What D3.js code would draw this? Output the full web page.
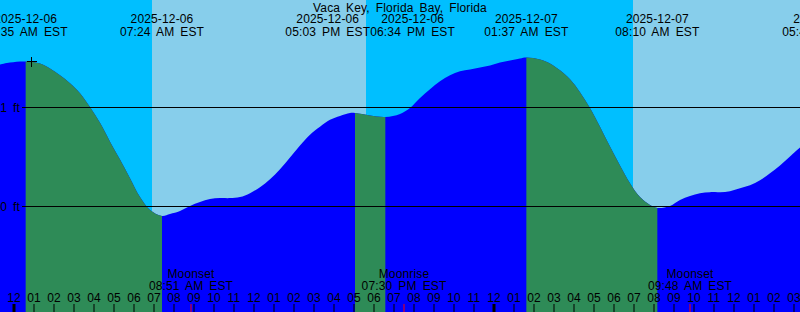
<!DOCTYPE html>
<html>
<head>
<meta charset="utf-8">
<script src="https://cdn.jsdelivr.net/npm/d3@7/dist/d3.min.js"></script>
<style>
  body { margin: 0; overflow: hidden; background: #fff; }
  svg { display: block; font-family: "Liberation Sans", Arial, sans-serif; font-size: 12px; word-spacing: 2.5px; letter-spacing: 0.15px; }
</style>
</head>
<body>
<svg id="chart" width="800" height="312"></svg>
<script>
var title = "Vaca Key, Florida Bay, Florida";

// all times are hours after 2025-12-06 00:00 EST
var tideHours = [-0.7, -0.2, 0.583, 1.3, 1.8, 2.3, 2.8, 3.3, 3.8, 4.3, 4.8, 5.3, 5.8, 6.3, 6.8, 7.4,
  7.8, 8.3, 8.8, 9.3, 9.8, 10.3, 10.8, 11.3, 11.8, 12.3, 12.8, 13.3, 13.8, 14.3, 14.8, 15.3, 15.8,
  16.3, 16.8, 17.05, 17.8, 18.567, 19.3, 19.8, 20.3, 20.8, 21.3, 21.8, 22.3, 22.8, 23.3, 23.8,
  24.3, 24.8, 25.3, 25.617, 26.3, 26.8, 27.3, 27.8, 28.3, 28.8, 29.3, 29.8, 30.3, 30.8, 31.3,
  31.8, 32.167, 32.8, 33.3, 33.8, 34.3, 34.8, 35.3, 35.8, 36.3, 36.8, 37.3, 37.8, 38.3, 38.8, 39.3];
var tideFeet = [1.43, 1.45, 1.46, 1.44, 1.39, 1.32, 1.24, 1.14, 1.00, 0.84, 0.65, 0.47, 0.28, 0.09, -0.04, -0.10,
  -0.08, -0.05, 0.00, 0.04, 0.07, 0.08, 0.08, 0.09, 0.13, 0.19, 0.27, 0.37, 0.49, 0.61, 0.72, 0.80, 0.87,
  0.91, 0.94, 0.94, 0.915, 0.90, 0.93, 0.99, 1.09, 1.18, 1.26, 1.32, 1.36, 1.38, 1.40, 1.42,
  1.45, 1.47, 1.49, 1.50, 1.48, 1.44, 1.37, 1.28, 1.15, 0.99, 0.80, 0.60, 0.41, 0.23, 0.09,
  0.01, -0.02, 0.00, 0.06, 0.10, 0.13, 0.14, 0.14, 0.15, 0.18, 0.21, 0.26, 0.33, 0.41, 0.50, 0.59];

var extremeHours = [0.583, 7.4, 17.05, 18.567, 25.617, 32.167, 41.75, 43.55];
var extremeKinds = ["high", "low", "high", "low", "high", "low", "high", "low"];
var extremeDates = ["2025-12-06", "2025-12-06", "2025-12-06", "2025-12-06", "2025-12-07", "2025-12-07", "2025-12-07", "2025-12-07"];
var extremeTimes = ["12:35 AM EST", "07:24 AM EST", "05:03 PM EST", "06:34 PM EST", "01:37 AM EST", "08:10 AM EST", "05:45 PM EST", "07:33 PM EST"];

var sunriseHours = [6.9, 30.95];
var sunsetHours = [17.6];

var moonHours = [8.85, 19.5, 33.8];
var moonEvents = ["Moonset", "Moonrise", "Moonset"];
var moonTimes = ["08:51 AM EST", "07:30 PM EST", "09:48 AM EST"];

var feetTicks = [0, 1];
var feetLabels = ["0 ft", "1 ft"];

var hourTicks = d3.range(0, 40);
var hourLabels = ["12", "01", "02", "03", "04", "05", "06", "07", "08", "09", "10", "11",
  "12", "01", "02", "03", "04", "05", "06", "07", "08", "09", "10", "11",
  "12", "01", "02", "03", "04", "05", "06", "07", "08", "09", "10", "11",
  "12", "01", "02", "03"];

var markHour = 0.83, markFeet = 1.46;

var width = 800, height = 312;
var dayColor = "#87ceeb", nightColor = "#00bfff", floodColor = "#0000ff", ebbColor = "#2e8b57";

var svg = d3.select("#chart");
var x = d3.scaleLinear().domain([0, 40]).range([14, 814]);
var y = d3.scaleLinear().domain([0, 1]).range([206, 107]);

// sky
svg.append("rect").attr("width", width).attr("height", height).attr("fill", nightColor);
var days = sunriseHours.map(function(r){
  var s = sunsetHours.filter(function(v){ return v > r; })[0];
  return [r, s === undefined ? 40 : s];
});
svg.selectAll("rect.day").data(days).enter().append("rect")
  .attr("class", "day")
  .attr("x", function(d){ return x(d[0]); })
  .attr("width", function(d){ return x(d[1]) - x(d[0]); })
  .attr("y", 0).attr("height", height)
  .attr("fill", dayColor);

// water
var pts = tideHours.map(function(h, i){ return [h, tideFeet[i]]; });
var area = d3.area()
  .x(function(d){ return x(d[0]); })
  .y0(height)
  .y1(function(d){ return y(d[1]); })
  .curve(d3.curveCatmullRom.alpha(0.5));

svg.append("path").datum(pts).attr("d", area).attr("fill", floodColor);

// falling tide (high -> low) drawn in ebb colour
var ebbs = [];
extremeHours.forEach(function(h, i){
  if (extremeKinds[i] === "high" && i + 1 < extremeHours.length) ebbs.push([h, extremeHours[i + 1]]);
});
var defs = svg.append("defs");
ebbs.forEach(function(e, i){
  defs.append("clipPath").attr("id", "ebb" + i).append("rect")
    .attr("x", x(e[0])).attr("width", x(e[1]) - x(e[0]))
    .attr("y", 0).attr("height", height);
  svg.append("path").datum(pts).attr("d", area)
    .attr("fill", ebbColor).attr("clip-path", "url(#ebb" + i + ")");
});

// depth lines
svg.selectAll("line.depth").data(feetTicks).enter().append("line")
  .attr("x1", 22).attr("x2", width)
  .attr("y1", function(d){ return Math.round(y(d)) + 0.5; })
  .attr("y2", function(d){ return Math.round(y(d)) + 0.5; })
  .attr("stroke", "#000").attr("shape-rendering", "crispEdges");
svg.selectAll("text.depth").data(feetTicks).enter().append("text")
  .attr("x", 20).attr("y", function(d){ return y(d) + 4.5; })
  .attr("text-anchor", "end")
  .text(function(d, i){ return feetLabels[i]; });

// plus mark
var mx = Math.round(x(markHour)) + 0.5, my = Math.round(y(markFeet)) + 0.5;
svg.append("path")
  .attr("d", "M" + (mx - 5) + "," + my + "H" + (mx + 5) + "M" + mx + "," + (my - 5) + "V" + (my + 5))
  .attr("stroke", "#000").attr("shape-rendering", "crispEdges");

// title
svg.append("text").attr("x", 400).attr("y", 11.5).attr("text-anchor", "middle").text(title);

// tide event labels
var labels = extremeHours.map(function(h, i){
  var g = svg.append("g");
  g.append("text").attr("y", 23.3).attr("text-anchor", "middle").text(extremeDates[i]);
  g.append("text").attr("y", 35.7).attr("text-anchor", "middle").text(extremeTimes[i]);
  var w = d3.max(g.selectAll("text").nodes(), function(n){ return n.getComputedTextLength(); });
  return { g: g, cx: x(h), w: w };
});
for (var i = 1; i < labels.length; i++) {
  var a = labels[i - 1], b = labels[i];
  var overlap = (a.cx + a.w / 2) - (b.cx - b.w / 2);
  if (overlap > 0) { a.cx -= overlap / 2; b.cx += overlap / 2; }
}
labels.forEach(function(l){ l.g.attr("transform", "translate(" + l.cx + ",0)"); });

// moon labels
svg.selectAll("text.moon").data(moonHours).enter().append("text")
  .attr("x", function(d){ return x(d); }).attr("y", 278.3).attr("text-anchor", "middle")
  .text(function(d, i){ return moonEvents[i]; });
svg.selectAll("text.moontime").data(moonHours).enter().append("text")
  .attr("x", function(d){ return x(d); }).attr("y", 290.3).attr("text-anchor", "middle")
  .text(function(d, i){ return moonTimes[i]; });

// hour axis
svg.selectAll("text.hour").data(hourTicks).enter().append("text")
  .attr("x", function(d){ return x(d); }).attr("y", 301.7).attr("text-anchor", "middle")
  .text(function(d, i){ return hourLabels[i]; });
svg.selectAll("rect.tick").data(hourTicks).enter().append("rect")
  .attr("x", function(d){ return d % 24 === 0 ? x(d) - 1.5 : x(d) - 0.5; })
  .attr("width", function(d){ return d % 24 === 0 ? 3 : 1; })
  .attr("y", 304).attr("height", 8).attr("fill", "#000");
svg.selectAll("rect.moontick").data(moonHours).enter().append("rect")
  .attr("x", function(d){ return x(d) - 0.5; }).attr("width", 1)
  .attr("y", 304).attr("height", 8).attr("fill", "#ff0000");
</script>
</body>
</html>
